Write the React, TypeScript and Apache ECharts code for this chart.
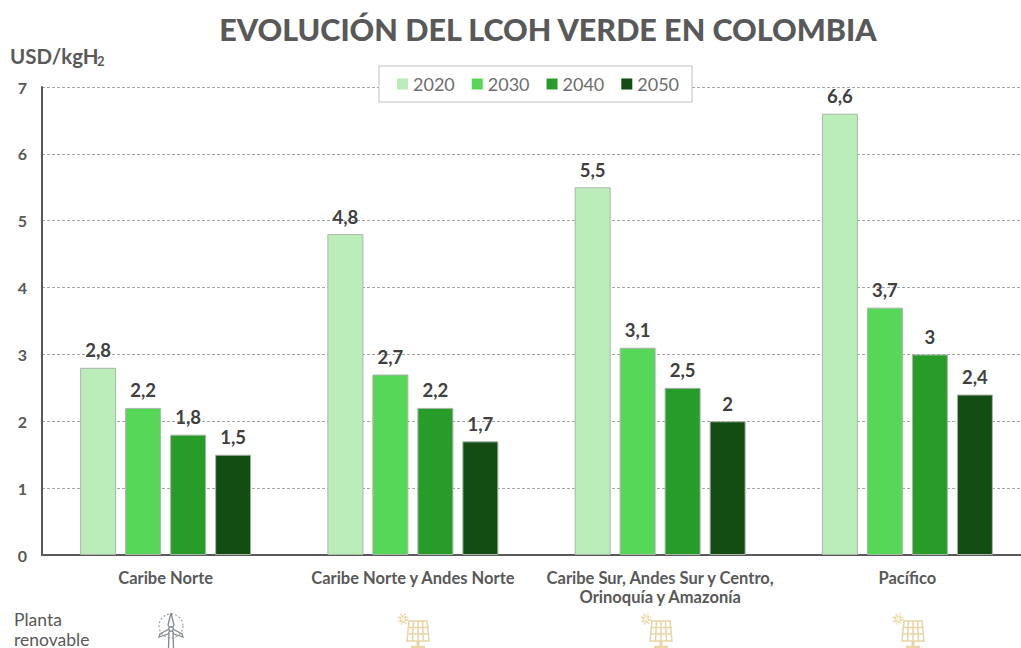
import React, { useEffect, useRef } from "react";
import * as echarts from "echarts";

const regions = [
  "Caribe Norte",
  "Caribe Norte y Andes Norte",
  "Caribe Sur, Andes Sur y Centro,\nOrinoquía y Amazonía",
  "Pacífico",
];
const years = ["2020", "2030", "2040", "2050"];
const v2020 = [2.8, 4.8, 5.5, 6.6];
const v2030 = [2.2, 2.7, 3.1, 3.7];
const v2040 = [1.8, 2.2, 2.5, 3];
const v2050 = [1.5, 1.7, 2, 2.4];
const values = [v2020, v2030, v2040, v2050];
const colors = ["#BBEDB9", "#57D758", "#279C28", "#134D13"];
const titleText = "EVOLUCIÓN DEL LCOH VERDE EN COLOMBIA";
const FONT = "Lato, 'Noto Sans', sans-serif";
const GREY = "#595959";

function windIcon(x: number, y: number) {
  const stroke = { stroke: "#858b92", lineWidth: 1.3, fill: "none" };
  return {
    type: "group",
    x,
    y,
    silent: true,
    children: [
      { type: "circle", shape: { cx: 12, cy: 13, r: 12 }, style: { stroke: "#a0a4a9", lineWidth: 1.2, fill: "none", lineDash: [2, 2] } },
      { type: "polygon", shape: { points: [[12, 0], [15, 12], [12, 17], [9, 12]] }, style: stroke },
      { type: "polygon", shape: { points: [[12, 15], [23, 21], [24, 24], [15, 21]] }, style: stroke },
      { type: "polygon", shape: { points: [[12, 15], [1, 21], [0, 24], [9, 21]] }, style: stroke },
      { type: "circle", shape: { cx: 12, cy: 16, r: 2.2 }, style: { stroke: "#858b92", lineWidth: 1.3, fill: "#fff" } },
      { type: "polyline", shape: { points: [[10, 20], [9.5, 35]] }, style: stroke },
      { type: "polyline", shape: { points: [[14, 20], [14.5, 35]] }, style: stroke },
    ],
  };
}

function solarIcon(x: number, y: number) {
  const stroke = { stroke: "#e8d5a6", lineWidth: 1.5, fill: "none" };
  const grid: any[] = [];
  [0.25, 0.5, 0.75].forEach((t) => {
    grid.push({
      type: "line",
      shape: { x1: 11 + 18 * t, y1: 7, x2: 9 + 22 * t, y2: 27 },
      style: stroke,
    });
  });
  [13.5, 20].forEach((yy) => {
    grid.push({ type: "line", shape: { x1: 9.5, y1: yy, x2: 31, y2: yy }, style: stroke });
  });
  return {
    type: "group",
    x,
    y,
    silent: true,
    children: [
      { type: "circle", shape: { cx: 5, cy: 5, r: 3 }, style: { stroke: "#e8d5a6", lineWidth: 2, fill: "#fbf3dc", lineDash: [2, 1] } },
      { type: "circle", shape: { cx: 5, cy: 5, r: 5 }, style: { stroke: "#efe2bf", lineWidth: 1.5, fill: "none", lineDash: [2, 2] } },
      { type: "polygon", shape: { points: [[11, 7], [29, 7], [31, 27], [9, 27]] }, style: stroke },
      ...grid,
      { type: "line", shape: { x1: 20, y1: 27, x2: 20, y2: 32 }, style: { ...stroke, lineWidth: 3 } },
      { type: "line", shape: { x1: 13, y1: 33, x2: 27, y2: 33 }, style: { ...stroke, lineWidth: 2.5 } },
    ],
  };
}

export default function App() {
  const ref = useRef<HTMLDivElement>(null);

  useEffect(() => {
    if (!ref.current) return;
    const chart = echarts.init(ref.current, null, { renderer: "svg" });
    chart.setOption({
      animation: false,
      backgroundColor: "#ffffff",
      textStyle: { fontFamily: FONT },
      title: {
        text: titleText,
        left: 543,
        top: 8,
        textAlign: "center",
        textStyle: { fontFamily: FONT, fontSize: 30.5, fontWeight: 900, color: GREY },
      },
      legend: {
        left: 379,
        top: 66,
        padding: [9, 13, 9, 18],
        data: years,
        itemWidth: 11,
        itemHeight: 11,
        itemGap: 17,
        icon: "rect",
        backgroundColor: "#ffffff",
        borderColor: "#bfbfbf",
        borderWidth: 1,
        itemStyle: { borderWidth: 0 },
        textStyle: { fontFamily: FONT, fontSize: 18, color: "#6e6e6e", padding: [0, 0, 0, 0] },
      },
      grid: { left: 42, top: 87, width: 989, height: 468, containLabel: false, outerBoundsMode: "none" },
      xAxis: {
        type: "category",
        data: regions,
        axisLine: { lineStyle: { color: GREY, width: 2 } },
        axisTick: { show: false },
        axisLabel: {
          interval: 0,
          margin: 13,
          fontFamily: FONT,
          fontSize: 16.5,
          fontWeight: "bold",
          color: GREY,
          lineHeight: 19,
        },
      },
      yAxis: {
        type: "value",
        min: 0,
        max: 7,
        interval: 1,
        axisLine: { show: true, lineStyle: { color: GREY, width: 2 } },
        axisTick: { show: false },
        axisLabel: { margin: 15, fontFamily: FONT, fontSize: 16, fontWeight: "bold", color: GREY },
        splitLine: { lineStyle: { color: "#a6a6a6", type: [3, 2], width: 1 } },
      },
      series: years.map((year, i) => ({
        name: year,
        type: "bar",
        data: values[i],
        barWidth: 36,
        barGap: "25%",
        itemStyle: { color: colors[i], borderColor: "#a9b5a9", borderWidth: 1 },
        label: {
          show: true,
          position: "top",
          distance: 8,
          fontFamily: FONT,
          fontSize: 18.5,
          fontWeight: "bold",
          color: "#404040",
          formatter: (p: any) => String(p.value).replace(".", ","),
        },
      })),
      graphic: [
        {
          type: "text",
          x: 10,
          y: 45,
          silent: true,
          style: { text: "USD/kgH", fontFamily: FONT, fontSize: 20.5, fontWeight: "bold", fill: GREY },
        },
        {
          type: "text",
          x: 97,
          y: 54,
          silent: true,
          style: { text: "2", fontFamily: FONT, fontSize: 13, fontWeight: "bold", fill: GREY },
        },
        {
          type: "text",
          x: 14,
          y: 609,
          silent: true,
          style: { text: "Planta\nrenovable", fontFamily: FONT, fontSize: 17.5, lineHeight: 20, fill: GREY },
        },
        windIcon(159, 613),
        solarIcon(398, 614),
        solarIcon(641, 614),
        solarIcon(893, 614),
      ],
    });
    return () => chart.dispose();
  }, []);

  return <div ref={ref} style={{ position: "absolute", left: 0, top: 0, width: 1021, height: 648 }} />;
}
